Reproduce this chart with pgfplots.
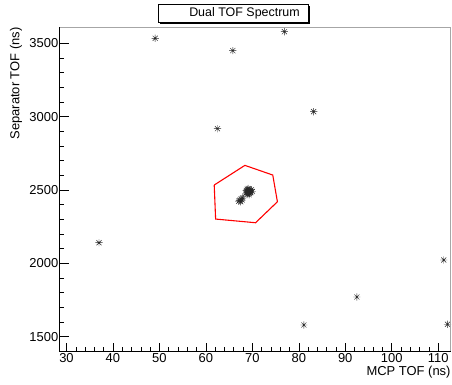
\documentclass[border=0pt]{standalone}
\usepackage{fontspec}
\setmainfont{Liberation Sans}
\usepackage{pgfplots}
\pgfplotsset{compat=1.18}
\pgfdeclareplotmark{rootstar}{%
  \pgfpathmoveto{\pgfqpoint{-\pgfplotmarksize}{0pt}}%
  \pgfpathlineto{\pgfqpoint{\pgfplotmarksize}{0pt}}%
  \pgfpathmoveto{\pgfqpoint{0pt}{-\pgfplotmarksize}}%
  \pgfpathlineto{\pgfqpoint{0pt}{\pgfplotmarksize}}%
  \pgfpathmoveto{\pgfqpoint{-0.707\pgfplotmarksize}{-0.707\pgfplotmarksize}}%
  \pgfpathlineto{\pgfqpoint{0.707\pgfplotmarksize}{0.707\pgfplotmarksize}}%
  \pgfpathmoveto{\pgfqpoint{-0.707\pgfplotmarksize}{0.707\pgfplotmarksize}}%
  \pgfpathlineto{\pgfqpoint{0.707\pgfplotmarksize}{-0.707\pgfplotmarksize}}%
  \pgfusepathqstroke}
\begin{document}
\begin{tikzpicture}[x=1bp,y=1bp]
\useasboundingbox (0,0) rectangle (452,384);
\begin{axis}[
  at={(59.5bp,32.3bp)}, anchor=south west,
  scale only axis, width=391.2bp, height=324.4bp,
  xmin=28.5, xmax=112.7, ymin=1398, ymax=3609,
  xtick={30,40,...,110}, ytick={1500,2000,...,3500},
  minor x tick num=4, minor y tick num=4,
  tick align=inside, xtick pos=left, ytick pos=left,
  major tick length=9bp, minor tick length=4.5bp,
  axis line style={draw=none},
  tick style={black, line width=0.5pt},
  ticklabel style={font=\fontsize{13}{15}\selectfont},
  xticklabel style={inner sep=2bp},
  yticklabel style={inner sep=1bp},
  /pgf/number format/assume math mode=true,
  /pgf/number format/1000 sep={},
  clip=false,
]
\addplot[only marks, mark=rootstar, mark size=3.6bp, mark options={line width=0.45pt, black!85}] coordinates {
(49.1,3534) (65.8,3450) (76.9,3579) (62.5,2918) (83.2,3034)
(37.0,2141) (111.2,2023) (92.5,1771) (112.0,1585) (81.1,1580)
(69.0,2490) (69.3,2500) (68.8,2485) (69.6,2495) (68.9,2505)
(69.2,2480) (68.7,2497) (69.8,2502) (69.4,2478) (69.1,2510)
(70.0,2490) (68.9,2470) (69.5,2488) (69.2,2493) (68.6,2478)
(69.7,2483) (69.0,2500) (69.3,2468)
(67.6,2440) (67.3,2430) (67.8,2432) (67.1,2424) (67.5,2420) (67.9,2445)
};
\addplot[red, line width=1.1pt, line join=miter] coordinates {
(61.8,2534) (68.4,2668) (74.4,2602) (75.4,2420) (70.7,2277) (62.1,2302) (61.8,2534)
};
\end{axis}
% frame
\draw[gray!70, line width=0.8bp] (59.5,356.7) -- (450.7,356.7) -- (450.7,32.3);
\draw[black, line width=0.6bp] (59.5,356.7) -- (59.5,32.3) -- (450.7,32.3);
% axis titles
\node[anchor=base east, inner sep=0pt, font=\fontsize{13}{15}\selectfont] at (450.7,8.7) {MCP TOF (ns)};
\node[rotate=90, anchor=base east, inner sep=0pt, font=\fontsize{13}{15}\selectfont] at (19.3,356.7) {Separator TOF (ns)};
% title box
\fill[black] (159.5,360.5) rectangle (310,377.5);
\filldraw[fill=white, draw=black, line width=0.5bp] (158.3,362) rectangle (308.7,379.3);
\node[inner sep=0pt, font=\fontsize{12.5}{14}\selectfont] at (244.5,370.5) {Dual TOF Spectrum};
\end{tikzpicture}
\end{document}
